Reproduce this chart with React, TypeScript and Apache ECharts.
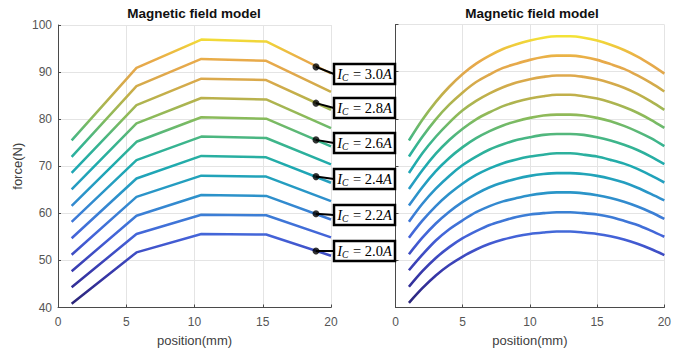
import React, { useEffect, useRef } from 'react';
import * as echarts from 'echarts';

// ---------- data ----------
const currents = ['2.0', '2.1', '2.2', '2.3', '2.4', '2.5', '2.6', '2.7', '2.8', '2.9', '3.0'];

// left panel: piece-wise linear model (break points), one row per current
const leftX = [1, 5.75, 10.5, 15.25, 20];
const leftForce = [
  [40.8, 51.7, 55.6, 55.5, 51.0],
  [44.3, 55.6, 59.7, 59.6, 54.9],
  [47.7, 59.5, 63.9, 63.7, 58.7],
  [51.2, 63.5, 68.0, 67.8, 62.6],
  [54.7, 67.4, 72.2, 71.9, 66.5],
  [58.2, 71.3, 76.3, 76.0, 70.4],
  [61.6, 75.2, 80.4, 80.1, 74.2],
  [65.1, 79.1, 84.5, 84.2, 78.1],
  [68.6, 83.0, 88.6, 88.3, 82.0],
  [72.0, 87.0, 92.8, 92.4, 85.8],
  [75.5, 90.9, 96.9, 96.5, 89.7],
];

// right panel: smooth model, one row per position, columns = currents 2.0 .. 3.0
const rightX = [1, 2, 3, 4, 5, 6, 7, 8, 9, 10, 11, 12, 13, 14, 15, 16, 17, 18, 19, 20];
const rightForceAtX = [
  [41.0, 44.4, 47.9, 51.3, 54.8, 58.2, 61.6, 65.1, 68.5, 72.0, 75.4],
  [44.1, 47.7, 51.2, 54.8, 58.4, 62.0, 65.5, 69.1, 72.7, 76.2, 79.8],
  [46.8, 50.5, 54.2, 57.8, 61.5, 65.2, 68.9, 72.6, 76.2, 79.9, 83.6],
  [49.0, 52.8, 56.6, 60.3, 64.1, 67.9, 71.7, 75.5, 79.2, 83.0, 86.8],
  [50.8, 54.7, 58.5, 62.4, 66.3, 70.2, 74.0, 77.9, 81.8, 85.6, 89.5],
  [52.3, 56.2, 60.2, 64.1, 68.1, 72.0, 75.9, 79.9, 83.8, 87.8, 91.7],
  [53.5, 57.5, 61.5, 65.5, 69.5, 73.5, 77.4, 81.4, 85.4, 89.4, 93.4],
  [54.4, 58.4, 62.5, 66.5, 70.6, 74.6, 78.6, 82.7, 86.7, 90.8, 94.8],
  [55.1, 59.2, 63.2, 67.3, 71.4, 75.5, 79.5, 83.6, 87.7, 91.7, 95.8],
  [55.6, 59.7, 63.8, 67.9, 72.0, 76.1, 80.2, 84.3, 88.4, 92.5, 96.6],
  [55.9, 60.0, 64.2, 68.3, 72.4, 76.6, 80.7, 84.8, 88.9, 93.1, 97.2],
  [56.1, 60.2, 64.4, 68.5, 72.7, 76.8, 80.9, 85.1, 89.2, 93.4, 97.5],
  [56.1, 60.2, 64.4, 68.5, 72.7, 76.8, 80.9, 85.1, 89.2, 93.4, 97.5],
  [55.9, 60.0, 64.2, 68.3, 72.4, 76.6, 80.7, 84.8, 88.9, 93.1, 97.2],
  [55.6, 59.7, 63.8, 67.9, 72.0, 76.1, 80.2, 84.3, 88.4, 92.5, 96.6],
  [55.1, 59.2, 63.2, 67.3, 71.3, 75.4, 79.5, 83.5, 87.6, 91.6, 95.7],
  [54.4, 58.4, 62.4, 66.5, 70.5, 74.5, 78.5, 82.5, 86.6, 90.6, 94.6],
  [53.5, 57.5, 61.4, 65.4, 69.4, 73.4, 77.3, 81.3, 85.3, 89.2, 93.2],
  [52.4, 56.3, 60.2, 64.1, 68.0, 72.0, 75.9, 79.8, 83.7, 87.6, 91.5],
  [51.1, 55.0, 58.8, 62.7, 66.5, 70.4, 74.2, 78.1, 81.9, 85.8, 89.6],
];

// annotations (callouts)
const labelCurrents = ['3.0', '2.8', '2.6', '2.4', '2.2', '2.0'];
const markerX = [18.9, 18.9, 18.9, 18.9, 18.9, 18.9];
const markerForce = [91.1, 83.4, 75.6, 67.8, 59.9, 52.0];

// axes
const xMin = 0, xMax = 20, xStep = 5;
const yMin = 40, yMax = 100, yStep = 10;
const titleText = 'Magnetic field model';
const xName = 'position(mm)';
const yName = 'force(N)';

// ---------- styles ----------
const colorStops = [
  '#2a2370', '#2e2a85', '#33309a', '#3739ab', '#3c45bb', '#4053ca', '#4462d8',
  '#4071d8', '#3b80d5', '#318cce', '#2798c6', '#22a2bb', '#1eaab0', '#2bb09e',
  '#3bb58c', '#5eb875', '#86bb5c', '#a3b653', '#c0b04a', '#d6aa4b', '#e2a84c',
  '#e8aa4a', '#eec43e', '#f3e236', '#f8f02e',
];
const sans = 'Liberation Sans, Arial, sans-serif';
const serif = 'Liberation Serif, DejaVu Serif, serif';
const boxLeft = 334;
const boxW = 61;
const boxH = 20;
const boxCenters = [74, 108, 143, 179, 215, 251];

function axisPair(gi: number, showYLabels: boolean) {
  const common = {
    gridIndex: gi,
    type: 'value' as const,
    axisLine: { show: true, lineStyle: { color: '#4a4a4a', width: 1 } },
    axisTick: { show: true, inside: true, length: 3, lineStyle: { color: '#4a4a4a' } },
    splitLine: { show: true, lineStyle: { color: '#e4e4e4', width: 1 } },
  };
  const x = {
    ...common,
    min: xMin, max: xMax, interval: xStep,
    name: xName, nameLocation: 'middle', nameGap: 26,
    nameTextStyle: { color: '#404040', fontSize: 13, fontFamily: sans },
    axisLabel: { color: '#555', fontSize: 12, fontFamily: sans, margin: 8 },
  };
  const y = {
    ...common,
    min: yMin, max: yMax, interval: yStep,
    name: showYLabels ? yName : '', nameLocation: 'middle', nameGap: 34,
    nameTextStyle: { color: '#404040', fontSize: 13, fontFamily: sans },
    axisLabel: { show: showYLabels, color: '#555', fontSize: 12, fontFamily: sans, margin: 6 },
  };
  return { x, y };
}

export default function App() {
  const ref = useRef<HTMLDivElement>(null);
  useEffect(() => {
    if (!ref.current) return;
    const chart = echarts.init(ref.current, undefined, { renderer: 'svg' });
    const a0 = axisPair(0, true);
    const a1 = axisPair(1, false);

    const series: any[] = [];
    leftForce.forEach((row, i) => {
      series.push({
        name: 'L ' + currents[i] + 'A',
        type: 'line', xAxisIndex: 0, yAxisIndex: 0,
        data: leftX.map((x, j) => [x, row[j]]),
        showSymbol: false, lineStyle: { width: 2.5 }, z: 3,
      });
    });
    currents.forEach((c, i) => {
      series.push({
        name: 'R ' + c + 'A',
        type: 'line', xAxisIndex: 1, yAxisIndex: 1,
        data: rightX.map((x, j) => [x, rightForceAtX[j][i]]),
        smooth: 0.3,
        showSymbol: false, lineStyle: { width: 2.6 }, z: 3,
      });
    });
    const lineCount = series.length;
    series.push({
      name: 'markers', type: 'scatter', xAxisIndex: 0, yAxisIndex: 0,
      data: markerX.map((x, k) => [x, markerForce[k]]),
      symbolSize: 7, itemStyle: { color: '#000' }, z: 6, clip: false,
    });

    const titles = [
      { type: 'text', x: 194, y: 13, style: { text: titleText, align: 'center', verticalAlign: 'middle', font: 'bold 13.5px ' + sans, fill: '#111' } },
      { type: 'text', x: 532, y: 13, style: { text: titleText, align: 'center', verticalAlign: 'middle', font: 'bold 13.5px ' + sans, fill: '#111' } },
    ];

    chart.setOption({
      animation: false,
      backgroundColor: '#ffffff',
      grid: [
        { left: 58, top: 25, width: 273, height: 282.5 },
        { left: 395.5, top: 24.5, width: 272.5, height: 283 },
      ],
      xAxis: [a0.x, a1.x],
      yAxis: [a0.y, a1.y],
      visualMap: {
        show: false, type: 'continuous', dimension: 1, min: yMin, max: yMax,
        seriesIndex: Array.from({ length: lineCount }, (_, k) => k),
        inRange: { color: colorStops },
      },
      series,
      graphic: titles,
    });

    const extra: any[] = [];
    labelCurrents.forEach((c, k) => {
      const p = chart.convertToPixel({ seriesIndex: lineCount }, [markerX[k], markerForce[k]]) as number[];
      const cy = boxCenters[k];
      extra.push({
        type: 'line', z: 50,
        shape: { x1: p[0], y1: p[1], x2: boxLeft, y2: cy },
        style: { stroke: '#000', lineWidth: 2 },
      });
      extra.push({
        type: 'rect', z: 51,
        shape: { x: boxLeft, y: cy - boxH / 2, width: boxW, height: boxH },
        style: { fill: '#fff', stroke: '#000', lineWidth: 2.5 },
      });
      extra.push({
        type: 'text', z: 52, x: boxLeft + boxW / 2, y: cy,
        style: {
          text: '{i|I}{s|C}{n| = ' + c + '}{i|A}',
          align: 'center', verticalAlign: 'middle', fill: '#000',
          rich: {
            i: { fontFamily: serif, fontSize: 14.5, fontStyle: 'italic', fill: '#000' },
            s: { fontFamily: serif, fontSize: 9.5, fontStyle: 'italic', fill: '#000', padding: [7, 1, 0, 0] },
            n: { fontFamily: serif, fontSize: 14.5, fill: '#000' },
          },
        },
      });
    });
    chart.setOption({ graphic: [...titles, ...extra] });

    return () => chart.dispose();
  }, []);
  return <div ref={ref} style={{ position: 'fixed', left: 0, top: 0, width: 674, height: 353 }} />;
}
